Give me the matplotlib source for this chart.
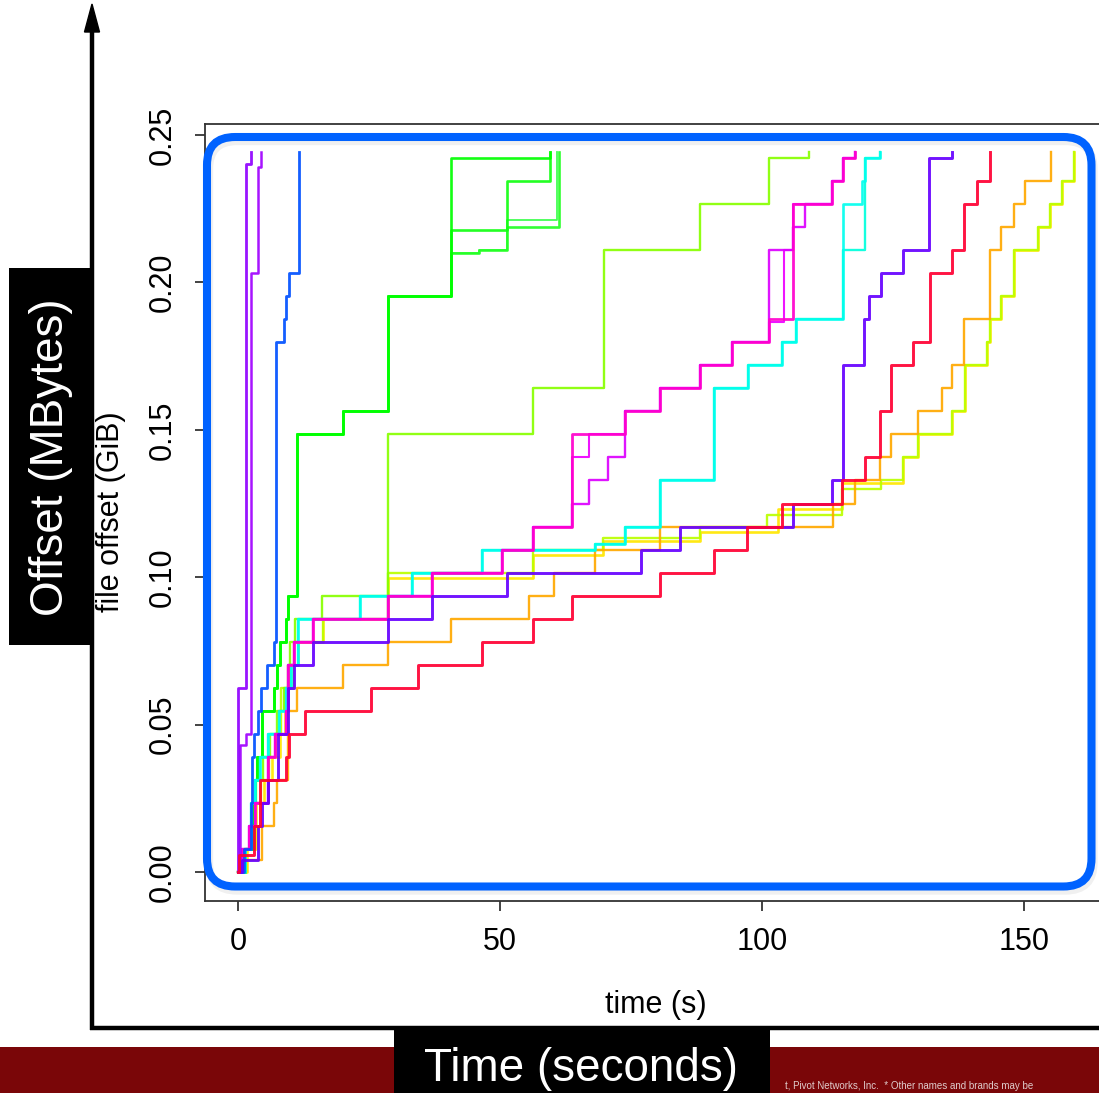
import numpy as np
import matplotlib
matplotlib.use('Agg')
import matplotlib.pyplot as plt
from matplotlib.patches import FancyBboxPatch, Rectangle, Polygon

plt.rcParams['font.family'] = ['Liberation Sans', 'DejaVu Sans']

# time (s) at which a reader reaches a new file offset (MiB), one list pair per reader
p1_t = [0, 0.05, 1.45, 2.45]
p1_mib = [0, 64, 246, 250]
p2_t = [0, 0.35, 1.45, 2.55, 3.85, 4.3]
p2_mib = [0, 44, 48, 208, 245, 250]

blue_t = [0, 1.1, 2.4, 2.7, 3.05, 3.9, 4.4, 5.5, 6.9, 7.3, 8.85, 9.2, 9.8, 11.6]
blue_mib = [0, 8, 24, 40, 48, 56, 64, 72, 80, 184, 192, 200, 208, 250]

green_base_t = [0, 1.3, 2.8, 3.3, 3.6, 4.6, 6.9, 7.4, 8.0, 9.2, 9.6, 11.2, 20.1, 28.6]
green_base_mib = [0, 8, 24, 32, 40, 56, 64, 72, 80, 88, 96, 152, 160, 200]
g1_t, g1_mib = [40.6, 59.5], [248, 250]
g2_t, g2_mib = [40.6, 51.3, 59.6], [223, 240, 250]
g3_t, g3_mib = [40.6, 46.0, 51.4, 61.2], [215, 216, 224, 250]
g4_t, g4_mib = [40.6, 46.0, 51.4, 60.9], [215, 216, 226.5, 250]

yg_t = [0, 1.2, 2.6, 3.5, 4.8, 6.1, 7.5, 8.8, 10.0, 10.9, 16.0, 28.6, 56.3, 69.8, 88.2, 101.3, 109.0]
yg_mib = [0, 8, 24, 32, 40, 48, 56, 64, 80, 88, 96, 152, 168, 216, 232, 248, 250]

mag_base_t = [0, 0.8, 2.0, 3.3, 5.7, 7.1, 9.2, 9.5, 10.7, 14.4, 28.6, 37.0, 50.3, 56.2]
mag_base_mib = [0, 8, 16, 24, 40, 48, 56, 72, 80, 88, 96, 104, 112, 120]
m1_t = [63.8, 73.9, 80.5, 88.2, 94.2, 101.3, 106.0, 113.3, 115.5, 117.7]
m1_mib = [152, 160, 168, 176, 184, 192, 232, 240, 248, 250]
m2_t = [63.8, 67.0, 70.7, 73.9, 80.5, 88.2, 94.2, 101.3, 106.0, 108.2, 113.3, 115.5, 117.7]
m2_mib = [128, 136, 144, 160, 168, 176, 184, 216, 224, 232, 240, 248, 250]
m3_t = [63.8, 66.9, 73.9, 80.5, 88.2, 94.2, 101.3, 104.2, 106.0, 113.3, 115.5, 117.7]
m3_mib = [144, 152, 160, 168, 176, 184, 191, 216, 232, 240, 248, 250]

cyan_base_t = [0, 1.4, 2.5, 3.2, 4.2, 5.8, 7.9, 9.2, 10.1, 11.5, 23.3, 33.2, 46.5, 68.2,
               73.9, 80.5, 90.8, 97.4, 103.9, 106.5]
cyan_base_mib = [0, 8, 24, 32, 40, 48, 56, 64, 72, 88, 96, 104, 112, 114,
                 120, 136, 168, 176, 184, 192]
c1_t, c1_mib = [115.4, 119.0, 119.7, 122.5], [232, 240, 248, 250]
c2_t, c2_mib = [115.4, 119.7, 122.5], [216, 248, 250]

violet_t = [0, 0.8, 3.9, 4.5, 5.7, 7.6, 9.6, 10.7, 14.4, 28.6, 37.0, 51.3, 77.0, 84.4,
            105.9, 113.3, 115.4, 119.5, 120.5, 122.7, 127.0, 131.9, 136.3]
violet_mib = [0, 4, 16, 24, 32, 48, 64, 72, 80, 88, 96, 104, 112, 120,
              128, 136, 176, 192, 200, 208, 216, 248, 250]

red_t = [0, 0.1, 3.0, 4.2, 9.2, 9.8, 12.7, 25.3, 34.4, 46.5, 56.2, 63.8, 80.5, 90.8,
         97.2, 103.8, 115.2, 119.7, 122.6, 124.7, 128.9, 132.1, 136.3, 138.6, 141.0, 143.6]
red_mib = [0, 6, 16, 32, 40, 48, 56, 64, 72, 80, 88, 96, 104, 112,
           120, 128, 136, 144, 160, 176, 184, 208, 216, 232, 240, 250]

orange_t = [0, 1.5, 4.5, 6.8, 7.4, 9.6, 11.2, 20.1, 28.6, 40.7, 55.5, 60.3, 68.2, 80.5,
            113.6, 117.7, 122.6, 124.7, 129.7, 134.4, 136.3, 138.6, 143.6, 145.6, 148.0, 150.2, 155.1]
orange_mib = [0, 4, 16, 24, 32, 56, 64, 72, 80, 88, 96, 104, 112, 120,
              128, 136, 144, 152, 160, 168, 176, 192, 216, 224, 232, 240, 250]

lime_t = [0, 1.6, 3.3, 4.4, 5.9, 7.2, 8.2, 9.5, 10.6, 16.3, 28.6, 56.2, 69.6, 88.2, 101.0, 115.2,
          122.8, 127.0, 129.7, 136.3, 138.7, 142.9, 143.5, 145.7, 148.0, 152.7, 155.0, 157.2, 159.5]
lime_mib = [0, 8, 24, 32, 40, 48, 64, 72, 80, 88, 104, 112, 116, 120, 124, 133,
            136, 144, 152, 160, 176, 184, 192, 200, 216, 224, 232, 240, 250]

yellow_t = [0, 1.8, 3.5, 5.0, 6.5, 8.0, 9.0, 10.5, 11.5, 16.3, 28.6, 56.2, 69.6, 88.2, 103.0, 115.2,
            127.0, 129.7, 136.3, 138.7, 142.9, 143.5, 145.7, 148.0, 152.7, 155.0, 157.2, 159.5]
yellow_mib = [0, 8, 24, 32, 40, 48, 64, 72, 80, 88, 102, 110, 115, 118, 126, 135,
              144, 152, 160, 176, 184, 192, 200, 216, 224, 232, 240, 250]

# drawing order: first is bottom
series = [
    (yellow_t, yellow_mib, '#FFE600', 1.9),
    (lime_t, lime_mib, '#BBFF00', 1.7),
    (orange_t, orange_mib, '#FFA800', 1.7),
    (yg_t, yg_mib, '#88FF00', 1.7),
    (green_base_t + g4_t, green_base_mib + g4_mib, '#33FF44', 1.3),
    (green_base_t + g3_t, green_base_mib + g3_mib, '#22FF22', 1.9),
    (green_base_t + g2_t, green_base_mib + g2_mib, '#11FF11', 1.9),
    (green_base_t + g1_t, green_base_mib + g1_mib, '#00FF00', 1.9),
    (cyan_base_t + c2_t, cyan_base_mib + c2_mib, '#00FFDD', 1.7),
    (cyan_base_t + c1_t, cyan_base_mib + c1_mib, '#00FFEE', 1.9),
    (mag_base_t + m3_t, mag_base_mib + m3_mib, '#EE00FF', 1.5),
    (mag_base_t + m2_t, mag_base_mib + m2_mib, '#DD00FF', 1.7),
    (mag_base_t + m1_t, mag_base_mib + m1_mib, '#FF00CC', 2.0),
    (blue_t, blue_mib, '#0050FF', 2.0),
    (p2_t, p2_mib, '#A000FF', 1.8),
    (p1_t, p1_mib, '#9000FF', 2.0),
    (violet_t, violet_mib, '#6600FF', 2.1),
    (red_t, red_mib, '#FF0033', 2.1),
]

W, H = 1099, 1093
fig = plt.figure(figsize=(W / 100, H / 100), dpi=100)
fig.patch.set_facecolor('white')

# R style limits: data range padded by 4 %
tmax = max(max(s[0]) for s in series)
vmax = max(max(s[1]) for s in series) / 1024.0
xlim = (-0.04 * tmax, tmax * 1.04)
ylim = (-0.04 * vmax, vmax * 1.04)

px_left, px_right, px_top, px_bottom = 204.6, 1107.2, 123.5, 900.8
ax = fig.add_axes([px_left / W, 1 - px_bottom / H,
                   (px_right - px_left) / W, (px_bottom - px_top) / H])

for t, mib, col, lw in series:
    ax.step(t, np.array(mib) / 1024.0, where='post', color=col, lw=lw, alpha=0.92)

ax.set_xlim(*xlim)
ax.set_ylim(*ylim)
ax.set_xticks([0, 50, 100, 150])
ax.set_yticks([0, 0.05, 0.10, 0.15, 0.20, 0.25])
ax.set_yticklabels(['0.00', '0.05', '0.10', '0.15', '0.20', '0.25'])
ax.tick_params(direction='out', length=7, width=1.2, pad=12, labelsize=22, color='#222222')
for lab in ax.get_yticklabels():
    lab.set_rotation(90)
    lab.set_va('center')
for sp in ax.spines.values():
    sp.set_color('#333333')
    sp.set_linewidth(1.3)

ax.set_xlabel('time (s)', fontsize=22)
ax.xaxis.set_label_coords(0.5, -0.134)
ax.xaxis.label.set_va('center')
ax.set_ylabel('file offset (GiB)', fontsize=22)
ax.yaxis.set_label_coords(-0.104, 0.5)
ax.yaxis.label.set_va('center')

# slide decorations on top, in pixel coordinates
ov = fig.add_axes([0, 0, 1, 1], zorder=10)
ov.set_xlim(0, W)
ov.set_ylim(H, 0)
ov.axis('off')

ov.add_patch(FancyBboxPatch((209, 141), 884.5, 749.5, boxstyle='round,pad=0,rounding_size=28',
                            fill=False, ec='black', lw=6, alpha=0.06))
ov.add_patch(FancyBboxPatch((207, 137), 884.5, 749.5, boxstyle='round,pad=0,rounding_size=28',
                            fill=False, ec='#0062FF', lw=5.8))

ov.add_patch(Rectangle((0, 1047), W, 50, color='#7A0608', lw=0))
ov.plot([90, W], [1028, 1028], color='black', lw=3.2, solid_capstyle='butt')
ov.plot([92, 92], [1030, 28], color='black', lw=3.2, solid_capstyle='butt')
ov.add_patch(Polygon([(92, 4), (84.5, 32), (99.5, 32)], closed=True, color='black'))

ov.add_patch(Rectangle((394, 1026), 376, 70, color='black', lw=0))
ov.text(581, 1069, 'Time (seconds)', color='white', fontsize=33, ha='center', va='center')

ov.add_patch(Rectangle((9, 268), 83, 377, color='black', lw=0))
ov.text(51, 457, 'Offset (MBytes)', color='white', fontsize=33, rotation=90,
        ha='center', va='center')

ov.text(785, 1091, 't, Pivot Networks, Inc.  * Other names and brands may be',
        color='#e0cccc', fontsize=7, ha='left', va='bottom')

fig.savefig('out.png', dpi=100)
